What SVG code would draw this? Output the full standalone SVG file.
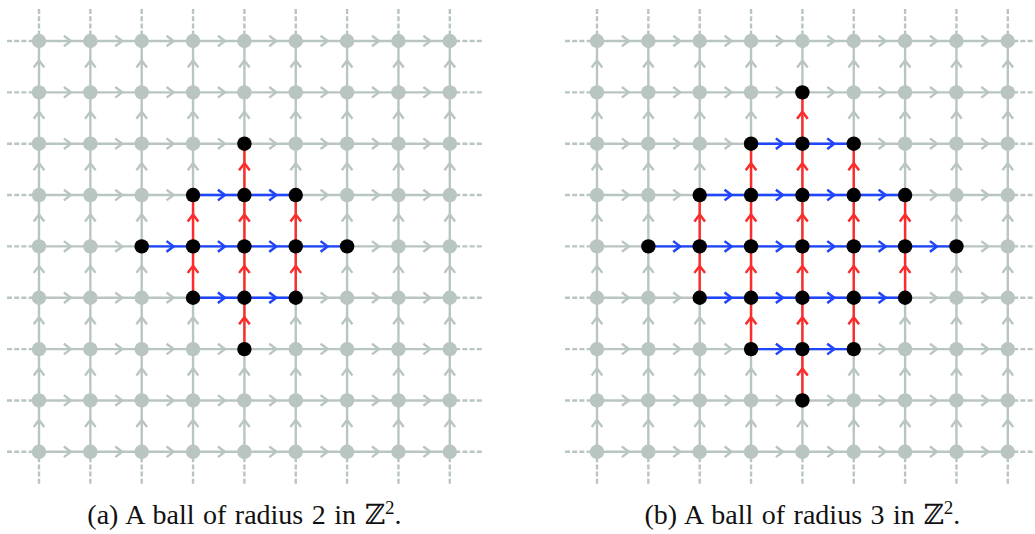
<svg xmlns="http://www.w3.org/2000/svg" width="1035" height="534" viewBox="0 0 1035 534">
<defs>
<style>
.eg{fill:none;stroke:#b8c5c1;stroke-width:2.4;marker-mid:url(#mg)}
.ext{fill:none;stroke:#b8c5c1;stroke-width:2.4;stroke-dasharray:5 2.2}
.eb{fill:none;stroke:#1f45ff;stroke-width:2.4;marker-mid:url(#mb)}
.er{fill:none;stroke:#ff2b2b;stroke-width:2.4;marker-mid:url(#mr)}
.n{fill:#b8c5c1}
.b{fill:#000}
.cap{font-family:"Liberation Serif","DejaVu Serif","DejaVu Sans",serif;font-size:28px;fill:#111;word-spacing:1.5px}
</style>
<marker id="mg" markerUnits="userSpaceOnUse" markerWidth="16" markerHeight="16" viewBox="-8 -8 16 16" refX="0" refY="0" orient="auto" overflow="visible"><path d="M-0.8,-5.3 L6.2,0 L-0.8,5.3" fill="none" stroke="#b8c5c1" stroke-width="2.4"/></marker>
<marker id="mb" markerUnits="userSpaceOnUse" markerWidth="16" markerHeight="16" viewBox="-8 -8 16 16" refX="0" refY="0" orient="auto" overflow="visible"><path d="M-0.8,-5.3 L6.2,0 L-0.8,5.3" fill="none" stroke="#1f45ff" stroke-width="2.4"/></marker>
<marker id="mr" markerUnits="userSpaceOnUse" markerWidth="16" markerHeight="16" viewBox="-8 -8 16 16" refX="0" refY="0" orient="auto" overflow="visible"><path d="M-0.8,-5.3 L6.2,0 L-0.8,5.3" fill="none" stroke="#ff2b2b" stroke-width="2.4"/></marker>
</defs>
<rect width="1035" height="534" fill="#fff"/>
<g id="connectors">
<g id="conn-a" transform="translate(39,41)">
<path class="ext" d="M-32,0 h32 M-32,51.35 h32 M-32,102.7 h32 M-32,154.05 h32 M-32,205.4 h32 M-32,256.75 h32 M-32,308.1 h32 M-32,359.45 h32 M-32,410.8 h32 M442.8,0 h-32 M442.8,51.35 h-32 M442.8,102.7 h-32 M442.8,154.05 h-32 M442.8,205.4 h-32 M442.8,256.75 h-32 M442.8,308.1 h-32 M442.8,359.45 h-32 M442.8,410.8 h-32 M0,-32 v32 M51.35,-32 v32 M102.7,-32 v32 M154.05,-32 v32 M205.4,-32 v32 M256.75,-32 v32 M308.1,-32 v32 M359.45,-32 v32 M410.8,-32 v32 M0,442.8 v-32 M51.35,442.8 v-32 M102.7,442.8 v-32 M154.05,442.8 v-32 M205.4,442.8 v-32 M256.75,442.8 v-32 M308.1,442.8 v-32 M359.45,442.8 v-32 M410.8,442.8 v-32"/>
<path class="eg" d="M0,0 h25.675 h51.35 h51.35 h51.35 h51.35 h51.35 h51.35 h51.35 h25.675"/>
<path class="eg" d="M0,51.35 h25.675 h51.35 h51.35 h51.35 h51.35 h51.35 h51.35 h51.35 h25.675"/>
<path class="eg" d="M0,102.7 h25.675 h51.35 h51.35 h51.35 h51.35 h51.35 h51.35 h51.35 h25.675"/>
<path class="eg" d="M0,154.05 h25.675 h51.35 h51.35 h51.35 h51.35 h51.35 h51.35 h51.35 h25.675"/>
<path class="eg" d="M0,205.4 h25.675 h51.35 h51.35 h51.35 h51.35 h51.35 h51.35 h51.35 h25.675"/>
<path class="eg" d="M0,256.75 h25.675 h51.35 h51.35 h51.35 h51.35 h51.35 h51.35 h51.35 h25.675"/>
<path class="eg" d="M0,308.1 h25.675 h51.35 h51.35 h51.35 h51.35 h51.35 h51.35 h51.35 h25.675"/>
<path class="eg" d="M0,359.45 h25.675 h51.35 h51.35 h51.35 h51.35 h51.35 h51.35 h51.35 h25.675"/>
<path class="eg" d="M0,410.8 h25.675 h51.35 h51.35 h51.35 h51.35 h51.35 h51.35 h51.35 h25.675"/>
<path class="eg" d="M0,410.8 v-25.675 v-51.35 v-51.35 v-51.35 v-51.35 v-51.35 v-51.35 v-51.35 v-25.675"/>
<path class="eg" d="M51.35,410.8 v-25.675 v-51.35 v-51.35 v-51.35 v-51.35 v-51.35 v-51.35 v-51.35 v-25.675"/>
<path class="eg" d="M102.7,410.8 v-25.675 v-51.35 v-51.35 v-51.35 v-51.35 v-51.35 v-51.35 v-51.35 v-25.675"/>
<path class="eg" d="M154.05,410.8 v-25.675 v-51.35 v-51.35 v-51.35 v-51.35 v-51.35 v-51.35 v-51.35 v-25.675"/>
<path class="eg" d="M205.4,410.8 v-25.675 v-51.35 v-51.35 v-51.35 v-51.35 v-51.35 v-51.35 v-51.35 v-25.675"/>
<path class="eg" d="M256.75,410.8 v-25.675 v-51.35 v-51.35 v-51.35 v-51.35 v-51.35 v-51.35 v-51.35 v-25.675"/>
<path class="eg" d="M308.1,410.8 v-25.675 v-51.35 v-51.35 v-51.35 v-51.35 v-51.35 v-51.35 v-51.35 v-25.675"/>
<path class="eg" d="M359.45,410.8 v-25.675 v-51.35 v-51.35 v-51.35 v-51.35 v-51.35 v-51.35 v-51.35 v-25.675"/>
<path class="eg" d="M410.8,410.8 v-25.675 v-51.35 v-51.35 v-51.35 v-51.35 v-51.35 v-51.35 v-51.35 v-25.675"/>
<path class="eb" d="M154.05,154.05 h25.675 h51.35 h25.675"/>
<path class="eb" d="M102.7,205.4 h25.675 h51.35 h51.35 h51.35 h25.675"/>
<path class="eb" d="M154.05,256.75 h25.675 h51.35 h25.675"/>
<path class="er" d="M154.05,256.75 v-25.675 v-51.35 v-25.675"/>
<path class="er" d="M205.4,308.1 v-25.675 v-51.35 v-51.35 v-51.35 v-25.675"/>
<path class="er" d="M256.75,256.75 v-25.675 v-51.35 v-25.675"/>
</g>
<g id="conn-b" transform="translate(597,41)">
<path class="ext" d="M-32,0 h32 M-32,51.35 h32 M-32,102.7 h32 M-32,154.05 h32 M-32,205.4 h32 M-32,256.75 h32 M-32,308.1 h32 M-32,359.45 h32 M-32,410.8 h32 M442.8,0 h-32 M442.8,51.35 h-32 M442.8,102.7 h-32 M442.8,154.05 h-32 M442.8,205.4 h-32 M442.8,256.75 h-32 M442.8,308.1 h-32 M442.8,359.45 h-32 M442.8,410.8 h-32 M0,-32 v32 M51.35,-32 v32 M102.7,-32 v32 M154.05,-32 v32 M205.4,-32 v32 M256.75,-32 v32 M308.1,-32 v32 M359.45,-32 v32 M410.8,-32 v32 M0,442.8 v-32 M51.35,442.8 v-32 M102.7,442.8 v-32 M154.05,442.8 v-32 M205.4,442.8 v-32 M256.75,442.8 v-32 M308.1,442.8 v-32 M359.45,442.8 v-32 M410.8,442.8 v-32"/>
<path class="eg" d="M0,0 h25.675 h51.35 h51.35 h51.35 h51.35 h51.35 h51.35 h51.35 h25.675"/>
<path class="eg" d="M0,51.35 h25.675 h51.35 h51.35 h51.35 h51.35 h51.35 h51.35 h51.35 h25.675"/>
<path class="eg" d="M0,102.7 h25.675 h51.35 h51.35 h51.35 h51.35 h51.35 h51.35 h51.35 h25.675"/>
<path class="eg" d="M0,154.05 h25.675 h51.35 h51.35 h51.35 h51.35 h51.35 h51.35 h51.35 h25.675"/>
<path class="eg" d="M0,205.4 h25.675 h51.35 h51.35 h51.35 h51.35 h51.35 h51.35 h51.35 h25.675"/>
<path class="eg" d="M0,256.75 h25.675 h51.35 h51.35 h51.35 h51.35 h51.35 h51.35 h51.35 h25.675"/>
<path class="eg" d="M0,308.1 h25.675 h51.35 h51.35 h51.35 h51.35 h51.35 h51.35 h51.35 h25.675"/>
<path class="eg" d="M0,359.45 h25.675 h51.35 h51.35 h51.35 h51.35 h51.35 h51.35 h51.35 h25.675"/>
<path class="eg" d="M0,410.8 h25.675 h51.35 h51.35 h51.35 h51.35 h51.35 h51.35 h51.35 h25.675"/>
<path class="eg" d="M0,410.8 v-25.675 v-51.35 v-51.35 v-51.35 v-51.35 v-51.35 v-51.35 v-51.35 v-25.675"/>
<path class="eg" d="M51.35,410.8 v-25.675 v-51.35 v-51.35 v-51.35 v-51.35 v-51.35 v-51.35 v-51.35 v-25.675"/>
<path class="eg" d="M102.7,410.8 v-25.675 v-51.35 v-51.35 v-51.35 v-51.35 v-51.35 v-51.35 v-51.35 v-25.675"/>
<path class="eg" d="M154.05,410.8 v-25.675 v-51.35 v-51.35 v-51.35 v-51.35 v-51.35 v-51.35 v-51.35 v-25.675"/>
<path class="eg" d="M205.4,410.8 v-25.675 v-51.35 v-51.35 v-51.35 v-51.35 v-51.35 v-51.35 v-51.35 v-25.675"/>
<path class="eg" d="M256.75,410.8 v-25.675 v-51.35 v-51.35 v-51.35 v-51.35 v-51.35 v-51.35 v-51.35 v-25.675"/>
<path class="eg" d="M308.1,410.8 v-25.675 v-51.35 v-51.35 v-51.35 v-51.35 v-51.35 v-51.35 v-51.35 v-25.675"/>
<path class="eg" d="M359.45,410.8 v-25.675 v-51.35 v-51.35 v-51.35 v-51.35 v-51.35 v-51.35 v-51.35 v-25.675"/>
<path class="eg" d="M410.8,410.8 v-25.675 v-51.35 v-51.35 v-51.35 v-51.35 v-51.35 v-51.35 v-51.35 v-25.675"/>
<path class="eb" d="M154.05,102.7 h25.675 h51.35 h25.675"/>
<path class="eb" d="M102.7,154.05 h25.675 h51.35 h51.35 h51.35 h25.675"/>
<path class="eb" d="M51.35,205.4 h25.675 h51.35 h51.35 h51.35 h51.35 h51.35 h25.675"/>
<path class="eb" d="M102.7,256.75 h25.675 h51.35 h51.35 h51.35 h25.675"/>
<path class="eb" d="M154.05,308.1 h25.675 h51.35 h25.675"/>
<path class="er" d="M102.7,256.75 v-25.675 v-51.35 v-25.675"/>
<path class="er" d="M154.05,308.1 v-25.675 v-51.35 v-51.35 v-51.35 v-25.675"/>
<path class="er" d="M205.4,359.45 v-25.675 v-51.35 v-51.35 v-51.35 v-51.35 v-51.35 v-25.675"/>
<path class="er" d="M256.75,308.1 v-25.675 v-51.35 v-51.35 v-51.35 v-25.675"/>
<path class="er" d="M308.1,256.75 v-25.675 v-51.35 v-25.675"/>
</g>
</g>
<g id="nodes-a" transform="translate(39,41)">
<g id="a0_0"><circle class="n" cx="0" cy="0" r="7.2"/></g>
<g id="a1_0"><circle class="n" cx="51.35" cy="0" r="7.2"/></g>
<g id="a2_0"><circle class="n" cx="102.7" cy="0" r="7.2"/></g>
<g id="a3_0"><circle class="n" cx="154.05" cy="0" r="7.2"/></g>
<g id="a4_0"><circle class="n" cx="205.4" cy="0" r="7.2"/></g>
<g id="a5_0"><circle class="n" cx="256.75" cy="0" r="7.2"/></g>
<g id="a6_0"><circle class="n" cx="308.1" cy="0" r="7.2"/></g>
<g id="a7_0"><circle class="n" cx="359.45" cy="0" r="7.2"/></g>
<g id="a8_0"><circle class="n" cx="410.8" cy="0" r="7.2"/></g>
<g id="a0_1"><circle class="n" cx="0" cy="51.35" r="7.2"/></g>
<g id="a1_1"><circle class="n" cx="51.35" cy="51.35" r="7.2"/></g>
<g id="a2_1"><circle class="n" cx="102.7" cy="51.35" r="7.2"/></g>
<g id="a3_1"><circle class="n" cx="154.05" cy="51.35" r="7.2"/></g>
<g id="a4_1"><circle class="n" cx="205.4" cy="51.35" r="7.2"/></g>
<g id="a5_1"><circle class="n" cx="256.75" cy="51.35" r="7.2"/></g>
<g id="a6_1"><circle class="n" cx="308.1" cy="51.35" r="7.2"/></g>
<g id="a7_1"><circle class="n" cx="359.45" cy="51.35" r="7.2"/></g>
<g id="a8_1"><circle class="n" cx="410.8" cy="51.35" r="7.2"/></g>
<g id="a0_2"><circle class="n" cx="0" cy="102.7" r="7.2"/></g>
<g id="a1_2"><circle class="n" cx="51.35" cy="102.7" r="7.2"/></g>
<g id="a2_2"><circle class="n" cx="102.7" cy="102.7" r="7.2"/></g>
<g id="a3_2"><circle class="n" cx="154.05" cy="102.7" r="7.2"/></g>
<g id="a4_2"><circle class="b" cx="205.4" cy="102.7" r="7.2"/></g>
<g id="a5_2"><circle class="n" cx="256.75" cy="102.7" r="7.2"/></g>
<g id="a6_2"><circle class="n" cx="308.1" cy="102.7" r="7.2"/></g>
<g id="a7_2"><circle class="n" cx="359.45" cy="102.7" r="7.2"/></g>
<g id="a8_2"><circle class="n" cx="410.8" cy="102.7" r="7.2"/></g>
<g id="a0_3"><circle class="n" cx="0" cy="154.05" r="7.2"/></g>
<g id="a1_3"><circle class="n" cx="51.35" cy="154.05" r="7.2"/></g>
<g id="a2_3"><circle class="n" cx="102.7" cy="154.05" r="7.2"/></g>
<g id="a3_3"><circle class="b" cx="154.05" cy="154.05" r="7.2"/></g>
<g id="a4_3"><circle class="b" cx="205.4" cy="154.05" r="7.2"/></g>
<g id="a5_3"><circle class="b" cx="256.75" cy="154.05" r="7.2"/></g>
<g id="a6_3"><circle class="n" cx="308.1" cy="154.05" r="7.2"/></g>
<g id="a7_3"><circle class="n" cx="359.45" cy="154.05" r="7.2"/></g>
<g id="a8_3"><circle class="n" cx="410.8" cy="154.05" r="7.2"/></g>
<g id="a0_4"><circle class="n" cx="0" cy="205.4" r="7.2"/></g>
<g id="a1_4"><circle class="n" cx="51.35" cy="205.4" r="7.2"/></g>
<g id="a2_4"><circle class="b" cx="102.7" cy="205.4" r="7.2"/></g>
<g id="a3_4"><circle class="b" cx="154.05" cy="205.4" r="7.2"/></g>
<g id="a4_4"><circle class="b" cx="205.4" cy="205.4" r="7.2"/></g>
<g id="a5_4"><circle class="b" cx="256.75" cy="205.4" r="7.2"/></g>
<g id="a6_4"><circle class="b" cx="308.1" cy="205.4" r="7.2"/></g>
<g id="a7_4"><circle class="n" cx="359.45" cy="205.4" r="7.2"/></g>
<g id="a8_4"><circle class="n" cx="410.8" cy="205.4" r="7.2"/></g>
<g id="a0_5"><circle class="n" cx="0" cy="256.75" r="7.2"/></g>
<g id="a1_5"><circle class="n" cx="51.35" cy="256.75" r="7.2"/></g>
<g id="a2_5"><circle class="n" cx="102.7" cy="256.75" r="7.2"/></g>
<g id="a3_5"><circle class="b" cx="154.05" cy="256.75" r="7.2"/></g>
<g id="a4_5"><circle class="b" cx="205.4" cy="256.75" r="7.2"/></g>
<g id="a5_5"><circle class="b" cx="256.75" cy="256.75" r="7.2"/></g>
<g id="a6_5"><circle class="n" cx="308.1" cy="256.75" r="7.2"/></g>
<g id="a7_5"><circle class="n" cx="359.45" cy="256.75" r="7.2"/></g>
<g id="a8_5"><circle class="n" cx="410.8" cy="256.75" r="7.2"/></g>
<g id="a0_6"><circle class="n" cx="0" cy="308.1" r="7.2"/></g>
<g id="a1_6"><circle class="n" cx="51.35" cy="308.1" r="7.2"/></g>
<g id="a2_6"><circle class="n" cx="102.7" cy="308.1" r="7.2"/></g>
<g id="a3_6"><circle class="n" cx="154.05" cy="308.1" r="7.2"/></g>
<g id="a4_6"><circle class="b" cx="205.4" cy="308.1" r="7.2"/></g>
<g id="a5_6"><circle class="n" cx="256.75" cy="308.1" r="7.2"/></g>
<g id="a6_6"><circle class="n" cx="308.1" cy="308.1" r="7.2"/></g>
<g id="a7_6"><circle class="n" cx="359.45" cy="308.1" r="7.2"/></g>
<g id="a8_6"><circle class="n" cx="410.8" cy="308.1" r="7.2"/></g>
<g id="a0_7"><circle class="n" cx="0" cy="359.45" r="7.2"/></g>
<g id="a1_7"><circle class="n" cx="51.35" cy="359.45" r="7.2"/></g>
<g id="a2_7"><circle class="n" cx="102.7" cy="359.45" r="7.2"/></g>
<g id="a3_7"><circle class="n" cx="154.05" cy="359.45" r="7.2"/></g>
<g id="a4_7"><circle class="n" cx="205.4" cy="359.45" r="7.2"/></g>
<g id="a5_7"><circle class="n" cx="256.75" cy="359.45" r="7.2"/></g>
<g id="a6_7"><circle class="n" cx="308.1" cy="359.45" r="7.2"/></g>
<g id="a7_7"><circle class="n" cx="359.45" cy="359.45" r="7.2"/></g>
<g id="a8_7"><circle class="n" cx="410.8" cy="359.45" r="7.2"/></g>
<g id="a0_8"><circle class="n" cx="0" cy="410.8" r="7.2"/></g>
<g id="a1_8"><circle class="n" cx="51.35" cy="410.8" r="7.2"/></g>
<g id="a2_8"><circle class="n" cx="102.7" cy="410.8" r="7.2"/></g>
<g id="a3_8"><circle class="n" cx="154.05" cy="410.8" r="7.2"/></g>
<g id="a4_8"><circle class="n" cx="205.4" cy="410.8" r="7.2"/></g>
<g id="a5_8"><circle class="n" cx="256.75" cy="410.8" r="7.2"/></g>
<g id="a6_8"><circle class="n" cx="308.1" cy="410.8" r="7.2"/></g>
<g id="a7_8"><circle class="n" cx="359.45" cy="410.8" r="7.2"/></g>
<g id="a8_8"><circle class="n" cx="410.8" cy="410.8" r="7.2"/></g>
</g>
<g id="nodes-b" transform="translate(597,41)">
<g id="b0_0"><circle class="n" cx="0" cy="0" r="7.2"/></g>
<g id="b1_0"><circle class="n" cx="51.35" cy="0" r="7.2"/></g>
<g id="b2_0"><circle class="n" cx="102.7" cy="0" r="7.2"/></g>
<g id="b3_0"><circle class="n" cx="154.05" cy="0" r="7.2"/></g>
<g id="b4_0"><circle class="n" cx="205.4" cy="0" r="7.2"/></g>
<g id="b5_0"><circle class="n" cx="256.75" cy="0" r="7.2"/></g>
<g id="b6_0"><circle class="n" cx="308.1" cy="0" r="7.2"/></g>
<g id="b7_0"><circle class="n" cx="359.45" cy="0" r="7.2"/></g>
<g id="b8_0"><circle class="n" cx="410.8" cy="0" r="7.2"/></g>
<g id="b0_1"><circle class="n" cx="0" cy="51.35" r="7.2"/></g>
<g id="b1_1"><circle class="n" cx="51.35" cy="51.35" r="7.2"/></g>
<g id="b2_1"><circle class="n" cx="102.7" cy="51.35" r="7.2"/></g>
<g id="b3_1"><circle class="n" cx="154.05" cy="51.35" r="7.2"/></g>
<g id="b4_1"><circle class="b" cx="205.4" cy="51.35" r="7.2"/></g>
<g id="b5_1"><circle class="n" cx="256.75" cy="51.35" r="7.2"/></g>
<g id="b6_1"><circle class="n" cx="308.1" cy="51.35" r="7.2"/></g>
<g id="b7_1"><circle class="n" cx="359.45" cy="51.35" r="7.2"/></g>
<g id="b8_1"><circle class="n" cx="410.8" cy="51.35" r="7.2"/></g>
<g id="b0_2"><circle class="n" cx="0" cy="102.7" r="7.2"/></g>
<g id="b1_2"><circle class="n" cx="51.35" cy="102.7" r="7.2"/></g>
<g id="b2_2"><circle class="n" cx="102.7" cy="102.7" r="7.2"/></g>
<g id="b3_2"><circle class="b" cx="154.05" cy="102.7" r="7.2"/></g>
<g id="b4_2"><circle class="b" cx="205.4" cy="102.7" r="7.2"/></g>
<g id="b5_2"><circle class="b" cx="256.75" cy="102.7" r="7.2"/></g>
<g id="b6_2"><circle class="n" cx="308.1" cy="102.7" r="7.2"/></g>
<g id="b7_2"><circle class="n" cx="359.45" cy="102.7" r="7.2"/></g>
<g id="b8_2"><circle class="n" cx="410.8" cy="102.7" r="7.2"/></g>
<g id="b0_3"><circle class="n" cx="0" cy="154.05" r="7.2"/></g>
<g id="b1_3"><circle class="n" cx="51.35" cy="154.05" r="7.2"/></g>
<g id="b2_3"><circle class="b" cx="102.7" cy="154.05" r="7.2"/></g>
<g id="b3_3"><circle class="b" cx="154.05" cy="154.05" r="7.2"/></g>
<g id="b4_3"><circle class="b" cx="205.4" cy="154.05" r="7.2"/></g>
<g id="b5_3"><circle class="b" cx="256.75" cy="154.05" r="7.2"/></g>
<g id="b6_3"><circle class="b" cx="308.1" cy="154.05" r="7.2"/></g>
<g id="b7_3"><circle class="n" cx="359.45" cy="154.05" r="7.2"/></g>
<g id="b8_3"><circle class="n" cx="410.8" cy="154.05" r="7.2"/></g>
<g id="b0_4"><circle class="n" cx="0" cy="205.4" r="7.2"/></g>
<g id="b1_4"><circle class="b" cx="51.35" cy="205.4" r="7.2"/></g>
<g id="b2_4"><circle class="b" cx="102.7" cy="205.4" r="7.2"/></g>
<g id="b3_4"><circle class="b" cx="154.05" cy="205.4" r="7.2"/></g>
<g id="b4_4"><circle class="b" cx="205.4" cy="205.4" r="7.2"/></g>
<g id="b5_4"><circle class="b" cx="256.75" cy="205.4" r="7.2"/></g>
<g id="b6_4"><circle class="b" cx="308.1" cy="205.4" r="7.2"/></g>
<g id="b7_4"><circle class="b" cx="359.45" cy="205.4" r="7.2"/></g>
<g id="b8_4"><circle class="n" cx="410.8" cy="205.4" r="7.2"/></g>
<g id="b0_5"><circle class="n" cx="0" cy="256.75" r="7.2"/></g>
<g id="b1_5"><circle class="n" cx="51.35" cy="256.75" r="7.2"/></g>
<g id="b2_5"><circle class="b" cx="102.7" cy="256.75" r="7.2"/></g>
<g id="b3_5"><circle class="b" cx="154.05" cy="256.75" r="7.2"/></g>
<g id="b4_5"><circle class="b" cx="205.4" cy="256.75" r="7.2"/></g>
<g id="b5_5"><circle class="b" cx="256.75" cy="256.75" r="7.2"/></g>
<g id="b6_5"><circle class="b" cx="308.1" cy="256.75" r="7.2"/></g>
<g id="b7_5"><circle class="n" cx="359.45" cy="256.75" r="7.2"/></g>
<g id="b8_5"><circle class="n" cx="410.8" cy="256.75" r="7.2"/></g>
<g id="b0_6"><circle class="n" cx="0" cy="308.1" r="7.2"/></g>
<g id="b1_6"><circle class="n" cx="51.35" cy="308.1" r="7.2"/></g>
<g id="b2_6"><circle class="n" cx="102.7" cy="308.1" r="7.2"/></g>
<g id="b3_6"><circle class="b" cx="154.05" cy="308.1" r="7.2"/></g>
<g id="b4_6"><circle class="b" cx="205.4" cy="308.1" r="7.2"/></g>
<g id="b5_6"><circle class="b" cx="256.75" cy="308.1" r="7.2"/></g>
<g id="b6_6"><circle class="n" cx="308.1" cy="308.1" r="7.2"/></g>
<g id="b7_6"><circle class="n" cx="359.45" cy="308.1" r="7.2"/></g>
<g id="b8_6"><circle class="n" cx="410.8" cy="308.1" r="7.2"/></g>
<g id="b0_7"><circle class="n" cx="0" cy="359.45" r="7.2"/></g>
<g id="b1_7"><circle class="n" cx="51.35" cy="359.45" r="7.2"/></g>
<g id="b2_7"><circle class="n" cx="102.7" cy="359.45" r="7.2"/></g>
<g id="b3_7"><circle class="n" cx="154.05" cy="359.45" r="7.2"/></g>
<g id="b4_7"><circle class="b" cx="205.4" cy="359.45" r="7.2"/></g>
<g id="b5_7"><circle class="n" cx="256.75" cy="359.45" r="7.2"/></g>
<g id="b6_7"><circle class="n" cx="308.1" cy="359.45" r="7.2"/></g>
<g id="b7_7"><circle class="n" cx="359.45" cy="359.45" r="7.2"/></g>
<g id="b8_7"><circle class="n" cx="410.8" cy="359.45" r="7.2"/></g>
<g id="b0_8"><circle class="n" cx="0" cy="410.8" r="7.2"/></g>
<g id="b1_8"><circle class="n" cx="51.35" cy="410.8" r="7.2"/></g>
<g id="b2_8"><circle class="n" cx="102.7" cy="410.8" r="7.2"/></g>
<g id="b3_8"><circle class="n" cx="154.05" cy="410.8" r="7.2"/></g>
<g id="b4_8"><circle class="n" cx="205.4" cy="410.8" r="7.2"/></g>
<g id="b5_8"><circle class="n" cx="256.75" cy="410.8" r="7.2"/></g>
<g id="b6_8"><circle class="n" cx="308.1" cy="410.8" r="7.2"/></g>
<g id="b7_8"><circle class="n" cx="359.45" cy="410.8" r="7.2"/></g>
<g id="b8_8"><circle class="n" cx="410.8" cy="410.8" r="7.2"/></g>
</g>
<g id="captions">
<text class="cap" x="244.4" y="524" text-anchor="middle">(a) A ball of radius 2 in ℤ<tspan dy="-10" font-size="19">2</tspan><tspan dy="10">.</tspan></text>
<text class="cap" x="802.4" y="524" text-anchor="middle">(b) A ball of radius 3 in ℤ<tspan dy="-10" font-size="19">2</tspan><tspan dy="10">.</tspan></text>
</g>
</svg>
